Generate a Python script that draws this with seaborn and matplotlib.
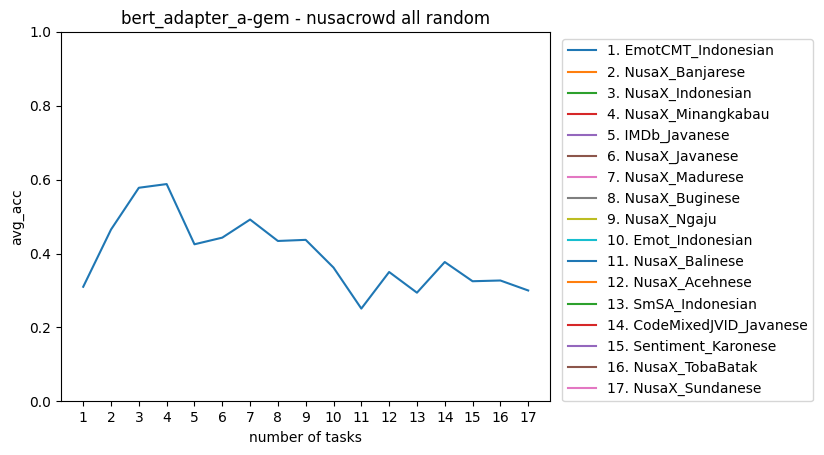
import matplotlib
matplotlib.use("Agg")
import matplotlib.pyplot as plt
import seaborn as sns
import numpy as np

task_names = ["EmotCMT_Indonesian", "NusaX_Banjarese", "NusaX_Indonesian", "NusaX_Minangkabau",
              "IMDb_Javanese", "NusaX_Javanese", "NusaX_Madurese", "NusaX_Buginese", "NusaX_Ngaju",
              "Emot_Indonesian", "NusaX_Balinese", "NusaX_Acehnese", "SmSA_Indonesian",
              "CodeMixedJVID_Javanese", "Sentiment_Karonese", "NusaX_TobaBatak", "NusaX_Sundanese"]
num_tasks = list(range(1, 18))
avg_acc = [0.31, 0.465, 0.578, 0.588, 0.425, 0.443, 0.492, 0.434, 0.437,
           0.362, 0.251, 0.350, 0.294, 0.377, 0.325, 0.327, 0.300]

fig = plt.figure(figsize=(8.24, 4.55), dpi=100)
ax = fig.add_axes([0.074, 0.118, 0.594, 0.812])
colors = plt.rcParams['axes.prop_cycle'].by_key()['color']

for i, name in enumerate(task_names):
    label = f"{i + 1}. {name}"
    if i == 0:
        sns.lineplot(x=num_tasks, y=avg_acc, ax=ax, color=colors[0], label=label)
    else:
        ax.plot([], [], color=colors[i % len(colors)], label=label)

ax.set_ylim(0, 1.0)
ax.set_xticks(num_tasks)
ax.set_xlabel("number of tasks")
ax.set_ylabel("avg_acc")
ax.set_title("bert_adapter_a-gem - nusacrowd all random")
ax.legend(loc="upper left", bbox_to_anchor=(1.01, 1.0))
fig.savefig("out.png", dpi=100)
